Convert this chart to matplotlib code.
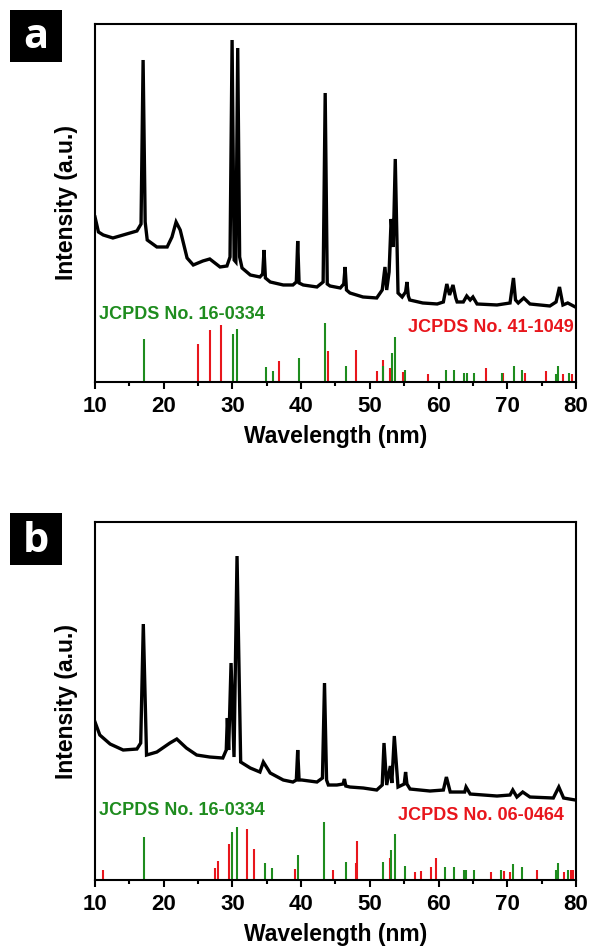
import numpy as np
import matplotlib.pyplot as plt
from matplotlib.patches import Rectangle

plt.rcParams['font.family'] = ['Liberation Sans', 'DejaVu Sans']
plt.rcParams['font.weight'] = 'bold'

# panel a: measured pattern (2theta, intensity a.u.)
a_x = [10.0, 10.5, 11.2, 12.6, 14.1, 16.1, 16.7, 17.0, 17.3, 17.6, 19.0, 20.5, 21.2, 21.8, 22.4,
       23.4, 24.3, 25.7, 26.7, 28.2, 29.2, 29.65, 29.95, 30.25, 30.5, 30.77, 31.05, 31.4, 32.6, 34.0,
       34.4, 34.6, 34.8, 35.5, 37.4, 38.8, 39.3, 39.5, 39.7, 40.3, 42.3, 43.2, 43.5, 43.8, 44.2,
       45.7, 46.2, 46.4, 46.6, 47.1, 49.0, 51.0, 51.8, 52.2, 52.45, 52.8, 53.1, 53.4, 53.7, 54.1,
       54.7, 55.2, 55.4, 55.6, 55.8, 57.7, 59.8, 60.7, 61.2, 61.6, 62.1, 62.5, 62.7, 63.6, 64.1,
       64.6, 65.0, 65.6, 68.5, 70.4, 70.9, 71.2, 71.6, 72.4, 73.3, 76.2, 77.1, 77.6, 78.1, 78.8, 79.9]
a_y = [165, 150, 147, 144, 147, 151, 158, 322, 160, 142, 135, 135, 145, 160, 152,
       124, 117, 121, 123, 115, 116, 125, 342, 122, 120, 334, 125, 114, 107, 105,
       108, 132, 104, 100, 97, 97, 100, 141, 99, 97, 95, 100, 289, 98, 96,
       94, 98, 115, 92, 89, 85, 84, 92, 115, 92, 110, 163, 135, 223, 89,
       85, 90, 100, 86, 82, 79, 78, 80, 98, 87, 97, 84, 80, 80, 86,
       82, 85, 78, 77, 79, 104, 82, 79, 84, 78, 76, 80, 95, 77, 79, 75]

# panel b: measured pattern
b_x = [10.0, 10.7, 12.2, 14.1, 16.1, 16.65, 17.03, 17.5, 19.0, 20.9, 21.9, 23.3, 24.8, 26.7, 28.6,
       29.1, 29.26, 29.45, 29.8, 30.23, 30.67, 31.2, 32.6, 34.0, 34.5, 35.5, 37.4, 38.8, 39.3, 39.5,
       39.7, 40.1, 42.3, 43.1, 43.4, 43.7, 43.96, 45.2, 46.1, 46.3, 46.5, 47.1, 49.05, 51.0, 51.8,
       52.06, 52.45, 52.98, 53.2, 53.56, 54.1, 55.0, 55.2, 55.4, 55.85, 58.75, 60.7, 61.14, 61.7, 63.8,
       64.0, 64.6, 68.5, 70.4, 70.8, 71.4, 72.25, 73.3, 76.7, 77.5, 78.2, 79.9]
b_y = [158, 145, 136, 130, 131, 137, 256, 125, 128, 137, 141, 132, 125, 123, 122,
       130, 162, 130, 217, 123, 324, 118, 112, 108, 118, 107, 100, 98, 100, 130,
       100, 100, 98, 102, 197, 100, 95, 95, 96, 101, 94, 93, 92, 90, 95,
       137, 95, 114, 97, 144, 93, 96, 108, 96, 91, 89, 90, 103, 88, 88,
       93, 86, 84, 85, 90, 83, 88, 83, 82, 93, 82, 80]

# reference cards
a_green_pos = [17.18, 30.04, 30.71, 34.84, 35.86, 39.69, 43.47, 46.53, 51.96, 53.22, 53.71, 55.12,
               61.09, 62.25, 63.7, 64.1, 65.16, 69.19, 70.93, 72.19, 77.1, 77.45, 78.95]
a_green_h = [42.5, 48, 53, 15, 11, 24, 58.5, 16.3, 16, 29, 45, 12.3,
             11.7, 11.7, 9, 9, 9, 9, 15.7, 11.7, 8.3, 16, 9]
a_red_pos = [24.99, 26.69, 28.38, 36.83, 43.91, 48.03, 51.09, 51.96, 52.98, 54.79, 58.47,
             66.97, 69.44, 72.56, 75.7, 78.09, 79.49]
a_red_h = [37.7, 52, 56.7, 21, 31, 31.7, 11, 22.3, 14.3, 10, 8.3,
           14.3, 9, 9, 11, 7.7, 8.3]

b_green_pos = [17.13, 29.98, 30.62, 34.74, 35.81, 39.6, 43.38, 46.48, 51.91, 53.13, 53.62, 55.07,
               61.0, 62.2, 63.66, 64.0, 65.1, 69.14, 70.88, 72.1, 77.05, 77.39, 78.88]
b_green_h = [43.3, 48, 53.3, 16.7, 12.3, 25, 58.3, 17.7, 17.7, 30, 45.7, 14.3,
             13.3, 13.3, 10, 10, 10, 10, 16, 13.3, 10, 17.3, 10]
b_red_pos = [11.12, 27.42, 27.95, 29.5, 32.08, 33.14, 39.1, 44.64, 48.0, 48.09, 52.98, 56.62,
             57.5, 58.9, 59.63, 63.8, 67.65, 69.55, 70.38, 74.3, 78.2, 79.27, 79.6]
b_red_h = [10, 12.3, 19.3, 35.7, 51.3, 30.7, 10.7, 10, 17.3, 39.3, 21.7, 7.7,
           9.3, 12.7, 21.7, 10, 8.3, 9.3, 8.3, 10, 8.3, 10, 10]

GREEN = '#1e8c1e'
RED = '#e8161c'

fig = plt.figure(figsize=(5.89, 9.49), dpi=100)

panels = [
    ('a', 0.5975, 10, a_x, a_y, a_green_pos, a_green_h, a_red_pos, a_red_h,
     'JCPDS No. 41-1049', 0.165, 0.128, 0.995),
    ('b', 0.0727, 513, b_x, b_y, b_green_pos, b_green_h, b_red_pos, b_red_h,
     'JCPDS No. 06-0464', 0.170, 0.157, 0.975),
]

for letter, bottom, box_top, cx, cy, gp, gh, rp, rh, red_label, gy, ry, rx in panels:
    ax = fig.add_axes([0.1613, bottom, 0.8166, 0.3772])
    ax.vlines(rp, 0, rh, color=RED, lw=1.5)
    ax.vlines(gp, 0, gh, color=GREEN, lw=1.5)
    ax.plot(cx, cy, color='black', lw=2.4, solid_joinstyle='miter')
    ax.set_xlim(10, 80)
    ax.set_ylim(0, 358)
    ax.set_xticks(range(10, 81, 10))
    ax.set_xticks(range(15, 80, 10), minor=True)
    ax.set_yticks([])
    ax.tick_params(axis='x', which='major', direction='out', length=5, width=1.5,
                   labelsize=16, pad=5)
    ax.tick_params(axis='x', which='minor', direction='out', length=3, width=1.5)
    for lab in ax.get_xticklabels():
        lab.set_fontweight('bold')
    for s in ax.spines.values():
        s.set_linewidth(1.5)
    ax.set_xlabel('Wavelength (nm)', fontsize=16.5, fontweight='bold', labelpad=6)
    ax.set_ylabel('Intensity (a.u.)', fontsize=16.5, fontweight='bold', labelpad=12)
    ax.text(0.008, gy, 'JCPDS No. 16-0334', transform=ax.transAxes, color=GREEN,
            fontsize=13, fontweight='bold', ha='left', va='bottom')
    ax.text(rx, ry, red_label, transform=ax.transAxes, color=RED,
            fontsize=13, fontweight='bold', ha='right', va='bottom')
    # panel letter in black box
    fig.patches.append(Rectangle((10 / 589, (949 - box_top - 52) / 949), 52 / 589, 52 / 949,
                                 transform=fig.transFigure, fc='black', ec='none'))
    fig.text(36 / 589, (949 - box_top - 28) / 949, letter, color='white', fontsize=30,
             fontweight='bold', ha='center', va='center', family=['Open Sans', 'DejaVu Sans'])

fig.savefig('out.png', dpi=100)
